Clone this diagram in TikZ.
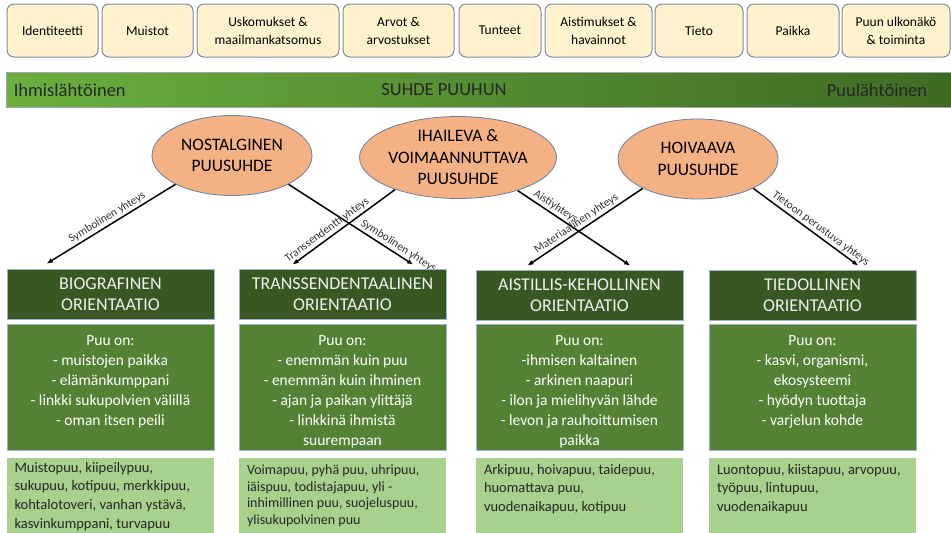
\documentclass[tikz,border=0pt]{standalone}
\usepackage{fontspec}
\setmainfont{Carlito}
\usetikzlibrary{shapes.geometric}
\usetikzlibrary{arrows.meta}
\usetikzlibrary{calc}

\definecolor{kerma}{HTML}{FFF2CC}
\definecolor{aihereuna}{HTML}{7D8CA3}
\definecolor{lohi}{HTML}{F4B183}
\definecolor{lohireuna}{HTML}{6A7F9E}
\definecolor{palkkivasen}{HTML}{6BAF3F}
\definecolor{palkkioikea}{HTML}{3E6B24}
\definecolor{tumma}{HTML}{385723}
\definecolor{keski}{HTML}{548235}
\definecolor{vaalea}{HTML}{A9D18E}
\definecolor{laatikkoreuna}{HTML}{9FB1C8}

\pgfdeclarelayer{tausta}
\pgfsetlayers{tausta,main}

\begin{document}
\begin{tikzpicture}[x=1pt,y=-1pt,every node/.style={inner sep=0pt},
  aihe/.style={draw=aihereuna,line width=1pt,fill=kerma,rounded corners=7pt,minimum height=53pt,align=center,font=\fontsize{13.5}{18}\selectfont},
  suhde/.style={ellipse,draw=lohireuna,line width=0.8pt,fill=lohi,minimum width=160pt,minimum height=80pt,align=center,font=\fontsize{17.5}{21.5}\selectfont},
  otsikko/.style={draw=laatikkoreuna,line width=0.8pt,fill=tumma,text=white!94!black,minimum width=207pt,minimum height=50pt,align=center,font=\fontsize{18}{21}\selectfont},
  keski/.style={draw=laatikkoreuna,line width=0.8pt,fill=keski,text=white,font=\fontsize{15.5}{20}\selectfont},
  esim/.style={fill=vaalea,inner xsep=8pt,text=black!85,font=\fontsize{14.5}{18.8}\selectfont},
  yhteys/.style={line width=1.5pt,-{Latex[length=6pt,width=5pt]}},
  nimi/.style={sloped,above,inner sep=2pt,font=\fontsize{11.5}{13}\selectfont,text=black!80}]
\useasboundingbox (0,0) rectangle (951,533);

% aiheet
\node[aihe,minimum width=91pt] (identiteetti) at (52.5,30.5) {Identiteetti};
\node[aihe,minimum width=91pt] (muistot) at (147.5,30.5) {Muistot};
\node[aihe,minimum width=142pt] (uskomukset) at (268,30.5) {Uskomukset \&\\maailmankatsomus};
\node[aihe,minimum width=111pt] (arvot) at (398.5,30.5) {Arvot \&\\arvostukset};
\node[aihe,minimum width=82pt] (tunteet) at (500,30.5) {Tunteet};
\node[aihe,minimum width=107pt] (aistimukset) at (598.5,30.5) {Aistimukset \&\\havainnot};
\node[aihe,minimum width=88pt] (tieto) at (699,30.5) {Tieto};
\node[aihe,minimum width=92pt] (paikka) at (793,30.5) {Paikka};
\node[aihe,minimum width=108pt] (ulkonako) at (896,30.5) {Puun ulkonäkö\\\& toiminta};

% palkki
\node[draw=black!35,line width=0.8pt,left color=palkkivasen,right color=palkkioikea,minimum width=945pt,minimum height=35pt] (palkki) at (478.5,90) {};
\node[anchor=west,xshift=8pt,font=\fontsize{18.5}{20}\selectfont,text=black!85] (ihmis) at (palkki.west) {Ihmislähtöinen};
\node[font=\fontsize{18.5}{20}\selectfont,text=black!85] (puuhun) at (444,90) {SUHDE PUUHUN};
\node[anchor=east,xshift=-24pt,font=\fontsize{18.5}{20}\selectfont,text=black!85] (puulah) at (palkki.east) {Puulähtöinen};

% puusuhteet
\node[suhde] (nost) at (232,155.5) {NOSTALGINEN\\PUUSUHDE};
\node[suhde,minimum height=82pt] (ihail) at (458,157.5) {IHAILEVA \&\\VOIMAANNUTTAVA\\PUUSUHDE};
\node[suhde] (hoiv) at (698,159) {HOIVAAVA\\PUUSUHDE};

% orientaatiot
\node[otsikko] (bio) at (110.5,294) {BIOGRAFINEN\\ORIENTAATIO};
\node[otsikko] (trans) at (342.5,294) {TRANSSENDENTAALINEN\\ORIENTAATIO};
\node[otsikko] (aist) at (579.5,295) {AISTILLIS-KEHOLLINEN\\ORIENTAATIO};
\node[otsikko] (tied) at (812.5,295) {TIEDOLLINEN\\ORIENTAATIO};

\node[keski] (biokeski) at (110.5,387) {\parbox[c][126pt][t]{207pt}{\centering\vspace{12pt}Puu on:\\- muistojen paikka\\- elämänkumppani\\- linkki sukupolvien välillä\\- oman itsen peili}};
\node[keski] (transkeski) at (342.5,387) {\parbox[c][126pt][t]{207pt}{\centering\vspace{12pt}Puu on:\\- enemmän kuin puu\\- enemmän kuin ihminen\\- ajan ja paikan ylittäjä\\- linkkinä ihmistä\\suurempaan}};
\node[keski] (aistkeski) at (579.5,387) {\parbox[c][126pt][t]{207pt}{\centering\vspace{12pt}Puu on:\\-ihmisen kaltainen\\- arkinen naapuri\\- ilon ja mielihyvän lähde\\- levon ja rauhoittumisen\\paikka}};
\node[keski] (tiedkeski) at (812.5,387) {\parbox[c][126pt][t]{207pt}{\centering\vspace{12pt}Puu on:\\- kasvi, organismi,\\ekosysteemi\\- hyödyn tuottaja\\- varjelun kohde}};

\node[esim] (bioesim) at (110,499) {\parbox[c][82pt][t]{191pt}{\raggedright\vspace{4pt}Muistopuu, kiipeilypuu,\\sukupuu, kotipuu, merkkipuu,\\kohtalotoveri, vanhan ystävä,\\kasvinkumppani, turvapuu}};
\node[esim,font=\fontsize{14}{16.5}\selectfont] (transesim) at (342.5,499) {\parbox[c][82pt][t]{191pt}{\raggedright\vspace{7pt}Voimapuu, pyhä puu, uhripuu,\\iäispuu, todistajapuu, yli -\\inhimillinen puu, suojeluspuu,\\ylisukupolvinen puu}};
\node[esim] (aistesim) at (579.5,499) {\parbox[c][82pt][t]{191pt}{\raggedright\vspace{6pt}Arkipuu, hoivapuu, taidepuu,\\huomattava puu,\\vuodenaikapuu, kotipuu}};
\node[esim] (tiedesim) at (812.5,499) {\parbox[c][82pt][t]{191pt}{\raggedright\vspace{6pt}Luontopuu, kiistapuu, arvopuu,\\työpuu, lintupuu,\\vuodenaikapuu}};

% yhteydet
\begin{pgfonlayer}{tausta}
\draw[yhteys] (nost.207) -- ($(bio.north west)!0.193!(bio.north east)+(0,-5)$) node[nimi,pos=0.5] {Symbolinen yhteys};
\draw[yhteys] (nost.333) -- ($(trans.north west)!0.84!(trans.north east)+(0,-4)$) node[nimi,pos=0.85] {Symbolinen yhteys};
\draw[yhteys] (ihail.207) -- ($(trans.north west)!0.26!(trans.north east)+(0,-4)$) node[nimi,pos=0.62] {Transsendentti yhteys};
\draw[yhteys] (ihail.331) -- ($(aist.north west)!0.744!(aist.north east)+(0,-4)$) node[nimi,pos=0.3] {Aistiyhteys};
\draw[yhteys] (hoiv.208) -- ($(aist.north west)!0.25!(aist.north east)+(0,-4)$) node[nimi,pos=0.54] {Materiaalinen yhteys};
\draw[yhteys] (hoiv.332) -- ($(tied.north west)!0.72!(tied.north east)+(0,-4)$) node[nimi,pos=0.6] {Tietoon perustuva yhteys};
\end{pgfonlayer}
\end{tikzpicture}
\end{document}
